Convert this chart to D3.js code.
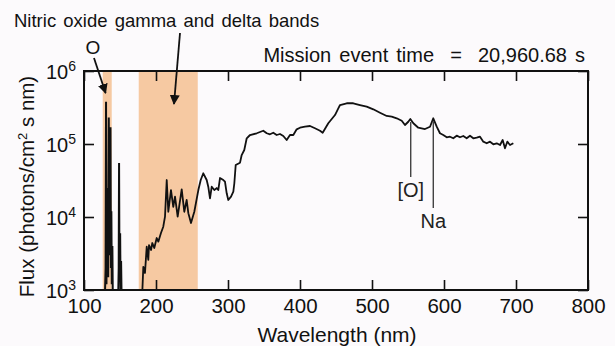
<!DOCTYPE html>
<html>
<head>
<meta charset="utf-8">
<script src="https://cdn.jsdelivr.net/npm/d3@7"></script>
<style>
  html, body { margin: 0; padding: 0; background: #fcfafc; }
  svg { display: block; font-family: "Liberation Sans", Arial, Helvetica, sans-serif; }
</style>
</head>
<body>
<svg id="chart" width="615" height="346"></svg>
<script>
// Emission lines in the far UV (O 130.4/135.6 nm, N 149.3 nm)
const lineWavelength = [129.0, 130.0, 130.6, 131.2, 131.8, 132.3, 133.0, 133.6, 134.4, 134.9, 135.6, 136.1, 136.8, 137.4, 138.0, 138.6, 139.4, 140.0, 147.5, 148.2, 148.7, 149.3, 150.2, 150.8, 151.5, 152.2];
const lineFlux       = [800, 2000, 380000, 1200, 25000, 2000, 8000, 1500, 230000, 4000, 30000, 3000, 170000, 2000, 12000, 1200, 4000, 800, 800, 2000, 55000, 1500, 6000, 900, 2500, 800];

// Continuum spectrum from the NO bands to the red
const specWavelength = [181.0, 182.4, 184.7, 187.1, 189.3, 190.3, 193.1, 194.9, 197.6, 201.0, 203.2, 206.9, 210.1, 212.5, 214.9, 217.1, 220.8, 224.0, 226.4, 230.1, 235.7, 239.3, 242.6, 244.9, 248.6, 253.2, 258.8, 262.1, 265.7, 270.4, 272.6, 275.0, 277.4, 281.0, 284.3, 286.5, 288.9, 293.5, 295.8, 298.2, 300.4, 304.2, 307.4, 308.8, 310.7, 316.7, 319.0, 322.6, 326.0, 330.6, 339.9, 349.0, 353.8, 358.3, 362.9, 367.6, 372.2, 376.8, 381.5, 386.1, 390.7, 395.4, 400.0, 406.9, 413.9, 420.8, 427.8, 431.5, 439.3, 448.6, 453.2, 455.6, 464.9, 474.0, 483.3, 492.6, 501.8, 511.1, 520.4, 527.4, 534.3, 541.3, 545.8, 550.4, 553.2, 557.4, 564.3, 573.6, 580.6, 585.1, 589.9, 594.4, 599.0, 603.8, 608.3, 612.9, 617.6, 622.2, 626.8, 631.5, 636.1, 640.7, 645.4, 650.0, 654.6, 659.3, 663.9, 668.5, 673.2, 677.8, 681.5, 684.7, 687.9, 691.7, 696.3];
const specFlux       = [950, 2080, 1710, 3920, 2580, 4130, 3530, 4400, 3760, 5150, 4590, 6040, 7360, 10100, 32100, 11800, 23400, 13800, 19000, 10100, 23900, 11800, 17100, 11300, 8280, 11800, 23400, 32100, 39700, 32100, 26000, 18000, 26000, 23400, 24900, 23400, 34200, 32100, 30500, 21100, 17100, 19000, 22200, 29000, 51500, 55500, 70600, 82800, 119700, 132800, 140300, 152000, 140300, 135800, 142800, 132800, 137100, 128800, 113500, 132800, 132800, 158900, 167100, 172500, 176500, 164200, 152000, 142800, 192200, 249300, 308400, 342000, 361400, 361400, 342000, 324300, 298600, 268500, 242100, 236700, 225000, 208500, 182000, 201800, 219800, 192200, 167100, 160300, 172500, 225000, 172500, 140300, 132800, 123600, 125900, 119700, 130000, 123600, 128800, 119700, 130000, 119700, 121900, 125900, 107600, 102300, 107600, 99100, 102300, 96900, 113500, 87300, 107600, 96900, 102300];

// Shaded wavelength bands (nm)
const bandStart = [126, 176];
const bandEnd   = [138.5, 258];

// Axis ticks
const xTicks = [100, 200, 300, 400, 500, 600, 700, 800];
const yTicks = [1e3, 1e4, 1e5, 1e6];
const yExponents = ["3", "4", "5", "6"];

// Labelled emission features
const featureLabels     = ["[O]", "Na"];
const featureWavelength = [553.8, 585.1];
const featureFlux       = [200000, 205000];
const featureEndFlux    = [35300, 13300];

const svg = d3.select("#chart");
const margin = { left: 84, right: 27, top: 71, bottom: 56 };
const W = 615, H = 346;
const x = d3.scaleLinear().domain([100, 800]).range([margin.left, W - margin.right]);
const y = d3.scaleLog().domain([1e3, 1e6]).range([H - margin.bottom, margin.top]);

const x0 = x.range()[0], x1 = x.range()[1];
const yTop = y.range()[1], yBot = y.range()[0];

const defs = svg.append("defs");
defs.append("clipPath").attr("id", "plot-clip")
  .append("rect").attr("x", x0).attr("y", yTop).attr("width", x1 - x0).attr("height", yBot - yTop);
defs.append("marker").attr("id", "arrow").attr("viewBox", "0 0 10 10")
  .attr("refX", 9).attr("refY", 5).attr("markerWidth", 10).attr("markerHeight", 10)
  .attr("markerUnits", "userSpaceOnUse").attr("orient", "auto")
  .append("path").attr("d", "M0,0 L10,5 L0,10 Z").attr("fill", "#111");

// Shaded bands
svg.append("g").selectAll("rect").data(bandStart).join("rect")
  .attr("x", (d) => x(d)).attr("y", yTop)
  .attr("width", (d, i) => x(bandEnd[i]) - x(d)).attr("height", yBot - yTop)
  .attr("fill", "#f6c9a2");

// Spectra
const line = d3.line().x((d) => x(d[0])).y((d) => y(d[1]));
const plot = svg.append("g").attr("clip-path", "url(#plot-clip)");
plot.append("path").datum(d3.zip(lineWavelength, lineFlux))
  .attr("d", line).attr("fill", "none").attr("stroke", "#111").attr("stroke-width", 2).attr("stroke-linejoin", "miter");
plot.append("path").datum(d3.zip(specWavelength, specFlux))
  .attr("d", line).attr("fill", "none").attr("stroke", "#111").attr("stroke-width", 1.8).attr("stroke-linejoin", "round");

// Axes with inward ticks
const tickLen = 10;
const gx = svg.append("g").attr("transform", `translate(0,${yBot})`)
  .call(d3.axisBottom(x).tickValues(xTicks).tickSize(-tickLen).tickPadding(8).tickFormat(d3.format("d")));
svg.append("g").attr("transform", `translate(0,${yTop})`)
  .call(d3.axisTop(x).tickValues(xTicks).tickSize(-tickLen).tickFormat(""));
const gy = svg.append("g").attr("transform", `translate(${x0},0)`)
  .call(d3.axisLeft(y).tickValues(yTicks).tickSize(-tickLen).tickPadding(6).tickFormat(() => ""));
svg.append("g").attr("transform", `translate(${x1},0)`)
  .call(d3.axisRight(y).tickValues(yTicks).tickSize(-tickLen).tickFormat(""));

svg.selectAll(".domain").remove();
svg.selectAll(".tick line").attr("stroke", "#111").attr("stroke-width", 1.6);
gx.selectAll(".tick text").attr("font-size", 20.5).attr("fill", "#111")
  .attr("font-family", "'Liberation Sans', Arial, sans-serif");

// Power-of-ten labels on the flux axis
gy.selectAll(".tick text").each(function (d, i) {
  const t = d3.select(this).text(null).attr("font-size", 20).attr("fill", "#111").attr("dy", "0.36em").attr("x", -8);
  t.append("tspan").text("10");
  t.append("tspan").attr("font-size", 14).attr("dy", -8).text(yExponents[i]);
});

// Frame
svg.append("rect").attr("x", x0).attr("y", yTop).attr("width", x1 - x0).attr("height", yBot - yTop)
  .attr("fill", "none").attr("stroke", "#111").attr("stroke-width", 2);

// Axis titles
svg.append("text").attr("x", (x0 + x1) / 2 + 1).attr("y", 342).attr("text-anchor", "middle")
  .attr("font-size", 21).attr("fill", "#111").text("Wavelength (nm)");
const yt = svg.append("text").attr("transform", `translate(34,${(yTop + yBot) / 2 + 6}) rotate(-90)`)
  .attr("text-anchor", "middle").attr("font-size", 20.5).attr("fill", "#111");
yt.append("tspan").text("Flux (photons/cm");
yt.append("tspan").attr("font-size", 13).attr("dy", -7).text("2");
yt.append("tspan").attr("dy", 7).text(" s nm)");

// Feature markers
featureLabels.forEach((lab, i) => {
  svg.append("line").attr("x1", x(featureWavelength[i])).attr("x2", x(featureWavelength[i]))
    .attr("y1", y(featureFlux[i])).attr("y2", y(featureEndFlux[i]))
    .attr("stroke", "#333").attr("stroke-width", 1.3);
  svg.append("text").attr("x", x(featureWavelength[i])).attr("y", y(featureEndFlux[i]) + 20)
    .attr("text-anchor", "middle").attr("font-size", 20).attr("fill", "#222").text(lab);
});

// Top annotations
svg.append("text").attr("x", 14).attr("y", 27).attr("font-size", 18.5).attr("fill", "#111")
  .attr("word-spacing", 2).text("Nitric oxide gamma and delta bands");
svg.append("text").attr("x", 93).attr("y", 54).attr("text-anchor", "middle").attr("font-size", 19).attr("fill", "#111").text("O");
svg.append("text").attr("x", 585).attr("y", 62).attr("text-anchor", "end").attr("font-size", 20).attr("fill", "#111")
  .attr("word-spacing", 2.5).style("white-space", "pre").text("Mission event time  =  20,960.68 s");

// Arrows to the bands
svg.append("line").attr("x1", 94).attr("y1", 58).attr("x2", x(130.0)).attr("y2", 93)
  .attr("stroke", "#111").attr("stroke-width", 1.8).attr("marker-end", "url(#arrow)");
svg.append("line").attr("x1", 180).attr("y1", 33).attr("x2", x(225)).attr("y2", 104)
  .attr("stroke", "#111").attr("stroke-width", 1.8).attr("marker-end", "url(#arrow)");
</script>
</body>
</html>
